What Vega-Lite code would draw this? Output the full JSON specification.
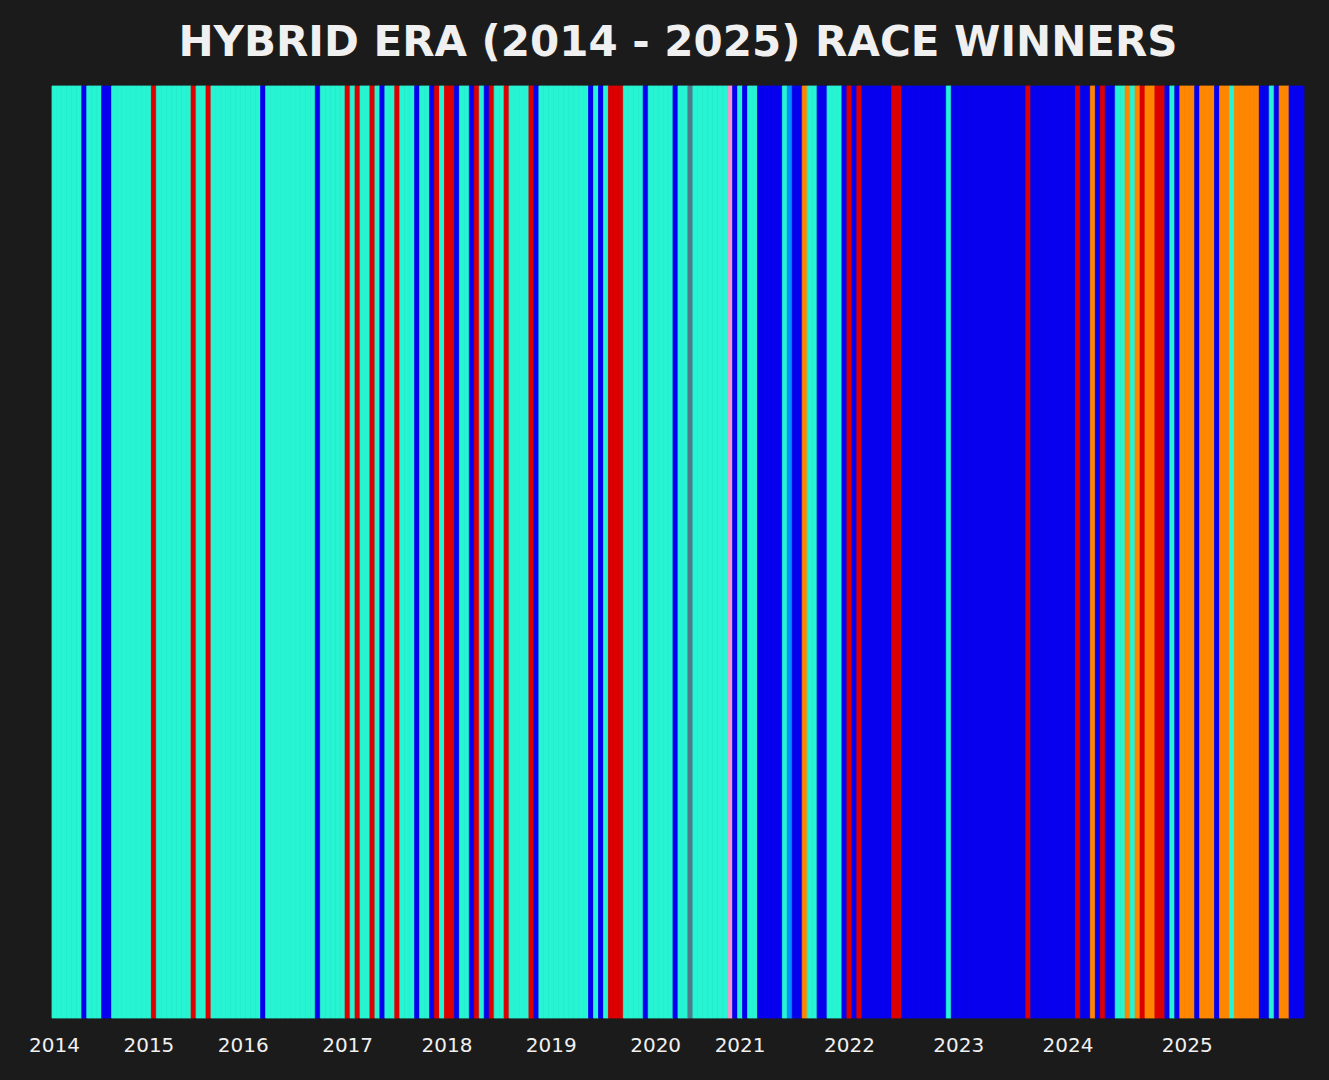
{
  "$schema": "https://vega.github.io/schema/vega-lite/v6.json",
  "width": 1252,
  "height": 932,
  "autosize": {"type": "none"},
  "padding": {"left": 52, "top": 86, "right": 25, "bottom": 62},
  "background": "#1b1b1b",
  "title": {
    "text": "HYBRID ERA (2014 - 2025) RACE WINNERS",
    "font": "DejaVu Sans",
    "fontSize": 42,
    "fontWeight": "bold",
    "color": "#f0f0f0",
    "anchor": "middle",
    "offset": 21
  },
  "config": {
    "view": {"stroke": null},
    "axis": {"grid": false}
  },
  "data": {
    "values": [
      {"race": "2014-01", "year": 2014, "team": "Mercedes"},
      {"race": "2014-02", "year": 2014, "team": "Mercedes"},
      {"race": "2014-03", "year": 2014, "team": "Mercedes"},
      {"race": "2014-04", "year": 2014, "team": "Mercedes"},
      {"race": "2014-05", "year": 2014, "team": "Mercedes"},
      {"race": "2014-06", "year": 2014, "team": "Mercedes"},
      {"race": "2014-07", "year": 2014, "team": "Red Bull"},
      {"race": "2014-08", "year": 2014, "team": "Mercedes"},
      {"race": "2014-09", "year": 2014, "team": "Mercedes"},
      {"race": "2014-10", "year": 2014, "team": "Mercedes"},
      {"race": "2014-11", "year": 2014, "team": "Red Bull"},
      {"race": "2014-12", "year": 2014, "team": "Red Bull"},
      {"race": "2014-13", "year": 2014, "team": "Mercedes"},
      {"race": "2014-14", "year": 2014, "team": "Mercedes"},
      {"race": "2014-15", "year": 2014, "team": "Mercedes"},
      {"race": "2014-16", "year": 2014, "team": "Mercedes"},
      {"race": "2014-17", "year": 2014, "team": "Mercedes"},
      {"race": "2014-18", "year": 2014, "team": "Mercedes"},
      {"race": "2014-19", "year": 2014, "team": "Mercedes"},
      {"race": "2015-01", "year": 2015, "team": "Mercedes"},
      {"race": "2015-02", "year": 2015, "team": "Ferrari"},
      {"race": "2015-03", "year": 2015, "team": "Mercedes"},
      {"race": "2015-04", "year": 2015, "team": "Mercedes"},
      {"race": "2015-05", "year": 2015, "team": "Mercedes"},
      {"race": "2015-06", "year": 2015, "team": "Mercedes"},
      {"race": "2015-07", "year": 2015, "team": "Mercedes"},
      {"race": "2015-08", "year": 2015, "team": "Mercedes"},
      {"race": "2015-09", "year": 2015, "team": "Mercedes"},
      {"race": "2015-10", "year": 2015, "team": "Ferrari"},
      {"race": "2015-11", "year": 2015, "team": "Mercedes"},
      {"race": "2015-12", "year": 2015, "team": "Mercedes"},
      {"race": "2015-13", "year": 2015, "team": "Ferrari"},
      {"race": "2015-14", "year": 2015, "team": "Mercedes"},
      {"race": "2015-15", "year": 2015, "team": "Mercedes"},
      {"race": "2015-16", "year": 2015, "team": "Mercedes"},
      {"race": "2015-17", "year": 2015, "team": "Mercedes"},
      {"race": "2015-18", "year": 2015, "team": "Mercedes"},
      {"race": "2015-19", "year": 2015, "team": "Mercedes"},
      {"race": "2016-01", "year": 2016, "team": "Mercedes"},
      {"race": "2016-02", "year": 2016, "team": "Mercedes"},
      {"race": "2016-03", "year": 2016, "team": "Mercedes"},
      {"race": "2016-04", "year": 2016, "team": "Mercedes"},
      {"race": "2016-05", "year": 2016, "team": "Red Bull"},
      {"race": "2016-06", "year": 2016, "team": "Mercedes"},
      {"race": "2016-07", "year": 2016, "team": "Mercedes"},
      {"race": "2016-08", "year": 2016, "team": "Mercedes"},
      {"race": "2016-09", "year": 2016, "team": "Mercedes"},
      {"race": "2016-10", "year": 2016, "team": "Mercedes"},
      {"race": "2016-11", "year": 2016, "team": "Mercedes"},
      {"race": "2016-12", "year": 2016, "team": "Mercedes"},
      {"race": "2016-13", "year": 2016, "team": "Mercedes"},
      {"race": "2016-14", "year": 2016, "team": "Mercedes"},
      {"race": "2016-15", "year": 2016, "team": "Mercedes"},
      {"race": "2016-16", "year": 2016, "team": "Red Bull"},
      {"race": "2016-17", "year": 2016, "team": "Mercedes"},
      {"race": "2016-18", "year": 2016, "team": "Mercedes"},
      {"race": "2016-19", "year": 2016, "team": "Mercedes"},
      {"race": "2016-20", "year": 2016, "team": "Mercedes"},
      {"race": "2016-21", "year": 2016, "team": "Mercedes"},
      {"race": "2017-01", "year": 2017, "team": "Ferrari"},
      {"race": "2017-02", "year": 2017, "team": "Mercedes"},
      {"race": "2017-03", "year": 2017, "team": "Ferrari"},
      {"race": "2017-04", "year": 2017, "team": "Mercedes"},
      {"race": "2017-05", "year": 2017, "team": "Mercedes"},
      {"race": "2017-06", "year": 2017, "team": "Ferrari"},
      {"race": "2017-07", "year": 2017, "team": "Mercedes"},
      {"race": "2017-08", "year": 2017, "team": "Red Bull"},
      {"race": "2017-09", "year": 2017, "team": "Mercedes"},
      {"race": "2017-10", "year": 2017, "team": "Mercedes"},
      {"race": "2017-11", "year": 2017, "team": "Ferrari"},
      {"race": "2017-12", "year": 2017, "team": "Mercedes"},
      {"race": "2017-13", "year": 2017, "team": "Mercedes"},
      {"race": "2017-14", "year": 2017, "team": "Mercedes"},
      {"race": "2017-15", "year": 2017, "team": "Red Bull"},
      {"race": "2017-16", "year": 2017, "team": "Mercedes"},
      {"race": "2017-17", "year": 2017, "team": "Mercedes"},
      {"race": "2017-18", "year": 2017, "team": "Red Bull"},
      {"race": "2017-19", "year": 2017, "team": "Ferrari"},
      {"race": "2017-20", "year": 2017, "team": "Mercedes"},
      {"race": "2018-01", "year": 2018, "team": "Ferrari"},
      {"race": "2018-02", "year": 2018, "team": "Ferrari"},
      {"race": "2018-03", "year": 2018, "team": "Red Bull"},
      {"race": "2018-04", "year": 2018, "team": "Mercedes"},
      {"race": "2018-05", "year": 2018, "team": "Mercedes"},
      {"race": "2018-06", "year": 2018, "team": "Red Bull"},
      {"race": "2018-07", "year": 2018, "team": "Ferrari"},
      {"race": "2018-08", "year": 2018, "team": "Mercedes"},
      {"race": "2018-09", "year": 2018, "team": "Red Bull"},
      {"race": "2018-10", "year": 2018, "team": "Ferrari"},
      {"race": "2018-11", "year": 2018, "team": "Mercedes"},
      {"race": "2018-12", "year": 2018, "team": "Mercedes"},
      {"race": "2018-13", "year": 2018, "team": "Ferrari"},
      {"race": "2018-14", "year": 2018, "team": "Mercedes"},
      {"race": "2018-15", "year": 2018, "team": "Mercedes"},
      {"race": "2018-16", "year": 2018, "team": "Mercedes"},
      {"race": "2018-17", "year": 2018, "team": "Mercedes"},
      {"race": "2018-18", "year": 2018, "team": "Ferrari"},
      {"race": "2018-19", "year": 2018, "team": "Red Bull"},
      {"race": "2018-20", "year": 2018, "team": "Mercedes"},
      {"race": "2018-21", "year": 2018, "team": "Mercedes"},
      {"race": "2019-01", "year": 2019, "team": "Mercedes"},
      {"race": "2019-02", "year": 2019, "team": "Mercedes"},
      {"race": "2019-03", "year": 2019, "team": "Mercedes"},
      {"race": "2019-04", "year": 2019, "team": "Mercedes"},
      {"race": "2019-05", "year": 2019, "team": "Mercedes"},
      {"race": "2019-06", "year": 2019, "team": "Mercedes"},
      {"race": "2019-07", "year": 2019, "team": "Mercedes"},
      {"race": "2019-08", "year": 2019, "team": "Mercedes"},
      {"race": "2019-09", "year": 2019, "team": "Red Bull"},
      {"race": "2019-10", "year": 2019, "team": "Mercedes"},
      {"race": "2019-11", "year": 2019, "team": "Red Bull"},
      {"race": "2019-12", "year": 2019, "team": "Mercedes"},
      {"race": "2019-13", "year": 2019, "team": "Ferrari"},
      {"race": "2019-14", "year": 2019, "team": "Ferrari"},
      {"race": "2019-15", "year": 2019, "team": "Ferrari"},
      {"race": "2019-16", "year": 2019, "team": "Mercedes"},
      {"race": "2019-17", "year": 2019, "team": "Mercedes"},
      {"race": "2019-18", "year": 2019, "team": "Mercedes"},
      {"race": "2019-19", "year": 2019, "team": "Mercedes"},
      {"race": "2019-20", "year": 2019, "team": "Red Bull"},
      {"race": "2019-21", "year": 2019, "team": "Mercedes"},
      {"race": "2020-01", "year": 2020, "team": "Mercedes"},
      {"race": "2020-02", "year": 2020, "team": "Mercedes"},
      {"race": "2020-03", "year": 2020, "team": "Mercedes"},
      {"race": "2020-04", "year": 2020, "team": "Mercedes"},
      {"race": "2020-05", "year": 2020, "team": "Red Bull"},
      {"race": "2020-06", "year": 2020, "team": "Mercedes"},
      {"race": "2020-07", "year": 2020, "team": "Mercedes"},
      {"race": "2020-08", "year": 2020, "team": "AlphaTauri"},
      {"race": "2020-09", "year": 2020, "team": "Mercedes"},
      {"race": "2020-10", "year": 2020, "team": "Mercedes"},
      {"race": "2020-11", "year": 2020, "team": "Mercedes"},
      {"race": "2020-12", "year": 2020, "team": "Mercedes"},
      {"race": "2020-13", "year": 2020, "team": "Mercedes"},
      {"race": "2020-14", "year": 2020, "team": "Mercedes"},
      {"race": "2020-15", "year": 2020, "team": "Mercedes"},
      {"race": "2020-16", "year": 2020, "team": "Racing Point"},
      {"race": "2020-17", "year": 2020, "team": "Red Bull"},
      {"race": "2021-01", "year": 2021, "team": "Mercedes"},
      {"race": "2021-02", "year": 2021, "team": "Red Bull"},
      {"race": "2021-03", "year": 2021, "team": "Mercedes"},
      {"race": "2021-04", "year": 2021, "team": "Mercedes"},
      {"race": "2021-05", "year": 2021, "team": "Red Bull"},
      {"race": "2021-06", "year": 2021, "team": "Red Bull"},
      {"race": "2021-07", "year": 2021, "team": "Red Bull"},
      {"race": "2021-08", "year": 2021, "team": "Red Bull"},
      {"race": "2021-09", "year": 2021, "team": "Red Bull"},
      {"race": "2021-10", "year": 2021, "team": "Mercedes"},
      {"race": "2021-11", "year": 2021, "team": "Alpine"},
      {"race": "2021-12", "year": 2021, "team": "Red Bull"},
      {"race": "2021-13", "year": 2021, "team": "Red Bull"},
      {"race": "2021-14", "year": 2021, "team": "McLaren"},
      {"race": "2021-15", "year": 2021, "team": "Mercedes"},
      {"race": "2021-16", "year": 2021, "team": "Mercedes"},
      {"race": "2021-17", "year": 2021, "team": "Red Bull"},
      {"race": "2021-18", "year": 2021, "team": "Red Bull"},
      {"race": "2021-19", "year": 2021, "team": "Mercedes"},
      {"race": "2021-20", "year": 2021, "team": "Mercedes"},
      {"race": "2021-21", "year": 2021, "team": "Mercedes"},
      {"race": "2021-22", "year": 2021, "team": "Red Bull"},
      {"race": "2022-01", "year": 2022, "team": "Ferrari"},
      {"race": "2022-02", "year": 2022, "team": "Red Bull"},
      {"race": "2022-03", "year": 2022, "team": "Ferrari"},
      {"race": "2022-04", "year": 2022, "team": "Red Bull"},
      {"race": "2022-05", "year": 2022, "team": "Red Bull"},
      {"race": "2022-06", "year": 2022, "team": "Red Bull"},
      {"race": "2022-07", "year": 2022, "team": "Red Bull"},
      {"race": "2022-08", "year": 2022, "team": "Red Bull"},
      {"race": "2022-09", "year": 2022, "team": "Red Bull"},
      {"race": "2022-10", "year": 2022, "team": "Ferrari"},
      {"race": "2022-11", "year": 2022, "team": "Ferrari"},
      {"race": "2022-12", "year": 2022, "team": "Red Bull"},
      {"race": "2022-13", "year": 2022, "team": "Red Bull"},
      {"race": "2022-14", "year": 2022, "team": "Red Bull"},
      {"race": "2022-15", "year": 2022, "team": "Red Bull"},
      {"race": "2022-16", "year": 2022, "team": "Red Bull"},
      {"race": "2022-17", "year": 2022, "team": "Red Bull"},
      {"race": "2022-18", "year": 2022, "team": "Red Bull"},
      {"race": "2022-19", "year": 2022, "team": "Red Bull"},
      {"race": "2022-20", "year": 2022, "team": "Red Bull"},
      {"race": "2022-21", "year": 2022, "team": "Mercedes"},
      {"race": "2022-22", "year": 2022, "team": "Red Bull"},
      {"race": "2023-01", "year": 2023, "team": "Red Bull"},
      {"race": "2023-02", "year": 2023, "team": "Red Bull"},
      {"race": "2023-03", "year": 2023, "team": "Red Bull"},
      {"race": "2023-04", "year": 2023, "team": "Red Bull"},
      {"race": "2023-05", "year": 2023, "team": "Red Bull"},
      {"race": "2023-06", "year": 2023, "team": "Red Bull"},
      {"race": "2023-07", "year": 2023, "team": "Red Bull"},
      {"race": "2023-08", "year": 2023, "team": "Red Bull"},
      {"race": "2023-09", "year": 2023, "team": "Red Bull"},
      {"race": "2023-10", "year": 2023, "team": "Red Bull"},
      {"race": "2023-11", "year": 2023, "team": "Red Bull"},
      {"race": "2023-12", "year": 2023, "team": "Red Bull"},
      {"race": "2023-13", "year": 2023, "team": "Red Bull"},
      {"race": "2023-14", "year": 2023, "team": "Red Bull"},
      {"race": "2023-15", "year": 2023, "team": "Ferrari"},
      {"race": "2023-16", "year": 2023, "team": "Red Bull"},
      {"race": "2023-17", "year": 2023, "team": "Red Bull"},
      {"race": "2023-18", "year": 2023, "team": "Red Bull"},
      {"race": "2023-19", "year": 2023, "team": "Red Bull"},
      {"race": "2023-20", "year": 2023, "team": "Red Bull"},
      {"race": "2023-21", "year": 2023, "team": "Red Bull"},
      {"race": "2023-22", "year": 2023, "team": "Red Bull"},
      {"race": "2024-01", "year": 2024, "team": "Red Bull"},
      {"race": "2024-02", "year": 2024, "team": "Red Bull"},
      {"race": "2024-03", "year": 2024, "team": "Ferrari"},
      {"race": "2024-04", "year": 2024, "team": "Red Bull"},
      {"race": "2024-05", "year": 2024, "team": "Red Bull"},
      {"race": "2024-06", "year": 2024, "team": "McLaren"},
      {"race": "2024-07", "year": 2024, "team": "Red Bull"},
      {"race": "2024-08", "year": 2024, "team": "Ferrari"},
      {"race": "2024-09", "year": 2024, "team": "Red Bull"},
      {"race": "2024-10", "year": 2024, "team": "Red Bull"},
      {"race": "2024-11", "year": 2024, "team": "Mercedes"},
      {"race": "2024-12", "year": 2024, "team": "Mercedes"},
      {"race": "2024-13", "year": 2024, "team": "McLaren"},
      {"race": "2024-14", "year": 2024, "team": "Mercedes"},
      {"race": "2024-15", "year": 2024, "team": "McLaren"},
      {"race": "2024-16", "year": 2024, "team": "Ferrari"},
      {"race": "2024-17", "year": 2024, "team": "McLaren"},
      {"race": "2024-18", "year": 2024, "team": "McLaren"},
      {"race": "2024-19", "year": 2024, "team": "Ferrari"},
      {"race": "2024-20", "year": 2024, "team": "Ferrari"},
      {"race": "2024-21", "year": 2024, "team": "Red Bull"},
      {"race": "2024-22", "year": 2024, "team": "Mercedes"},
      {"race": "2024-23", "year": 2024, "team": "Red Bull"},
      {"race": "2024-24", "year": 2024, "team": "McLaren"},
      {"race": "2025-01", "year": 2025, "team": "McLaren"},
      {"race": "2025-02", "year": 2025, "team": "McLaren"},
      {"race": "2025-03", "year": 2025, "team": "Red Bull"},
      {"race": "2025-04", "year": 2025, "team": "McLaren"},
      {"race": "2025-05", "year": 2025, "team": "McLaren"},
      {"race": "2025-06", "year": 2025, "team": "McLaren"},
      {"race": "2025-07", "year": 2025, "team": "Red Bull"},
      {"race": "2025-08", "year": 2025, "team": "McLaren"},
      {"race": "2025-09", "year": 2025, "team": "McLaren"},
      {"race": "2025-10", "year": 2025, "team": "Mercedes"},
      {"race": "2025-11", "year": 2025, "team": "McLaren"},
      {"race": "2025-12", "year": 2025, "team": "McLaren"},
      {"race": "2025-13", "year": 2025, "team": "McLaren"},
      {"race": "2025-14", "year": 2025, "team": "McLaren"},
      {"race": "2025-15", "year": 2025, "team": "McLaren"},
      {"race": "2025-16", "year": 2025, "team": "Red Bull"},
      {"race": "2025-17", "year": 2025, "team": "Red Bull"},
      {"race": "2025-18", "year": 2025, "team": "Mercedes"},
      {"race": "2025-19", "year": 2025, "team": "Red Bull"},
      {"race": "2025-20", "year": 2025, "team": "McLaren"},
      {"race": "2025-21", "year": 2025, "team": "McLaren"},
      {"race": "2025-22", "year": 2025, "team": "Red Bull"},
      {"race": "2025-23", "year": 2025, "team": "Red Bull"},
      {"race": "2025-24", "year": 2025, "team": "Red Bull"}
    ]
  },
  "mark": {"type": "bar", "strokeWidth": 0.8},
  "encoding": {
    "x": {
      "field": "race",
      "type": "ordinal",
      "sort": "ascending",
      "scale": {"paddingInner": 0, "paddingOuter": 0},
      "axis": {
        "title": null,
        "values": ["2014-01", "2015-01", "2016-01", "2017-01", "2018-01", "2019-01", "2020-01", "2021-01", "2022-01", "2023-01", "2024-01", "2025-01"],
        "labelExpr": "substring(datum.value, 0, 4)",
        "bandPosition": 0,
        "labelAngle": 0,
        "labelFont": "DejaVu Sans",
        "labelFontSize": 20,
        "labelFontWeight": "normal",
        "labelColor": "#f0f0f0",
        "labelPadding": 17,
        "labelFlush": false,
        "labelOverlap": false,
        "labelBound": false,
        "domain": false,
        "ticks": false,
        "tickSize": 0,
        "grid": false
      }
    },
    "color": {
      "field": "team",
      "type": "nominal",
      "scale": {
        "domain": ["Mercedes", "Red Bull", "Ferrari", "McLaren", "AlphaTauri", "Racing Point", "Alpine"],
        "range": ["#27F4D2", "#0600EF", "#DC0000", "#FF8700", "#4E7C8B", "#F596C8", "#0090FF"]
      },
      "legend": null
    },
    "stroke": {
      "field": "team",
      "type": "nominal",
      "scale": {
        "domain": ["Mercedes", "Red Bull", "Ferrari", "McLaren", "AlphaTauri", "Racing Point", "Alpine"],
        "range": ["#27F4D2", "#0600EF", "#DC0000", "#FF8700", "#4E7C8B", "#F596C8", "#0090FF"]
      },
      "legend": null
    }
  }
}
